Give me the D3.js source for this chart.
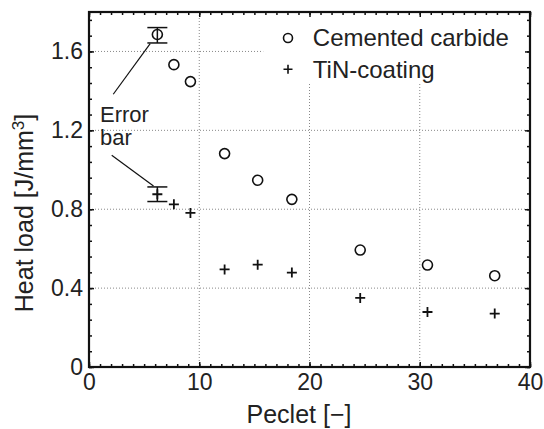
<!DOCTYPE html>
<html>
<head>
<meta charset="utf-8">
<script src="https://cdn.jsdelivr.net/npm/d3@7"></script>
<style>
  body { margin: 0; background: #fff; }
  svg { display: block; font-family: "Liberation Sans", Arial, sans-serif; }
</style>
</head>
<body>
<svg id="chart" width="544" height="429"></svg>
<script>
// data
const peclet  = [6.2, 7.7, 9.2, 12.3, 15.3, 18.4, 24.6, 30.7, 36.8];
const carbide = [1.686, 1.533, 1.447, 1.082, 0.947, 0.850, 0.593, 0.517, 0.463];
const tin     = [0.876, 0.825, 0.781, 0.495, 0.519, 0.479, 0.350, 0.279, 0.271];
// error bars on the first point of each series [low, high]
const carbideErr = [1.643, 1.721];
const tinErr     = [0.839, 0.913];
const xTicks = [0, 10, 20, 30, 40];
const yTicks = [0, 0.4, 0.8, 1.2, 1.6];
const yTickLabels = ['0', '0.4', '0.8', '1.2', '1.6'];
const seriesNames = ['Cemented carbide', 'TiN-coating'];

const svg = d3.select('#chart');
const margin = {top: 12, right: 14, bottom: 62, left: 89};
const width = 544 - margin.left - margin.right;
const height = 429 - margin.top - margin.bottom;

const x = d3.scaleLinear().domain([0, 40]).range([0, width]);
const y = d3.scaleLinear().domain([0, 1.8]).range([height, 0]);

const g = svg.append('g').attr('transform', `translate(${margin.left},${margin.top})`);

// grid
g.append('g').selectAll('line')
  .data(xTicks.slice(1, -1)).enter().append('line')
  .attr('x1', d => x(d)).attr('x2', d => x(d))
  .attr('y1', 0).attr('y2', height)
  .attr('stroke', '#888').attr('stroke-width', 1).attr('stroke-dasharray', '1,2');
g.append('g').selectAll('line')
  .data(yTicks.slice(1)).enter().append('line')
  .attr('y1', d => y(d)).attr('y2', d => y(d))
  .attr('x1', 0).attr('x2', width)
  .attr('stroke', '#888').attr('stroke-width', 1).attr('stroke-dasharray', '1,2');

// legend background hides the grid
g.append('rect')
  .attr('x', x(15.8)).attr('y', 2)
  .attr('width', width - x(15.8) - 2).attr('height', 70)
  .attr('fill', '#fff');

// axes with inward ticks
const fs = '23px';
function styleAxis(sel) {
  sel.select('.domain').remove();
  sel.selectAll('.tick line').attr('stroke', '#111').attr('stroke-width', 1.5);
  sel.selectAll('.tick text').attr('fill', '#222').style('font-size', fs);
}
g.append('g').attr('transform', `translate(0,${height})`)
  .call(d3.axisBottom(x).tickValues(xTicks).tickSize(-5).tickPadding(7))
  .call(styleAxis);
g.append('g').attr('transform', `translate(0,${height})`)
  .call(d3.axisBottom(x).tickValues(d3.range(0, 41, 1)).tickSize(-3).tickFormat(''))
  .call(styleAxis);
g.append('g')
  .call(d3.axisTop(x).tickValues(xTicks).tickSize(-5).tickFormat(''))
  .call(styleAxis);
g.append('g')
  .call(d3.axisTop(x).tickValues(d3.range(0, 41, 1)).tickSize(-3).tickFormat(''))
  .call(styleAxis);
g.append('g')
  .call(d3.axisLeft(y).tickValues(yTicks).tickSize(-5).tickPadding(6)
    .tickFormat((d, i) => yTickLabels[i]))
  .call(styleAxis);
g.append('g')
  .call(d3.axisLeft(y).tickValues(d3.range(0, 1.81, 0.08)).tickSize(-3).tickFormat(''))
  .call(styleAxis);
g.append('g').attr('transform', `translate(${width},0)`)
  .call(d3.axisRight(y).tickValues(yTicks).tickSize(-5).tickFormat(''))
  .call(styleAxis);
g.append('g').attr('transform', `translate(${width},0)`)
  .call(d3.axisRight(y).tickValues(d3.range(0, 1.81, 0.08)).tickSize(-3).tickFormat(''))
  .call(styleAxis);

// frame
g.append('rect')
  .attr('width', width).attr('height', height)
  .attr('fill', 'none').attr('stroke', '#111').attr('stroke-width', 2.2);

// axis labels
svg.append('text')
  .attr('x', 299).attr('y', 423)
  .attr('text-anchor', 'middle').attr('fill', '#222')
  .style('font-size', '25px').text('Peclet [\u2212]');
const yl = svg.append('text')
  .attr('transform', 'translate(33,213) rotate(-90)')
  .attr('text-anchor', 'middle').attr('fill', '#222')
  .style('font-size', '25px');
yl.append('tspan').text('Heat load [J/mm');
yl.append('tspan').attr('dy', -9).style('font-size', '17px').text('3');
yl.append('tspan').attr('dy', 9).text(']');

// error bars
function errorBar(px, range) {
  const eb = g.append('g').attr('stroke', '#111').attr('stroke-width', 1.5);
  eb.append('line').attr('x1', x(px)).attr('x2', x(px)).attr('y1', y(range[0])).attr('y2', y(range[1]));
  range.forEach(v => {
    eb.append('line').attr('x1', x(px) - 10).attr('x2', x(px) + 10)
      .attr('y1', y(v)).attr('y2', y(v));
  });
}
errorBar(peclet[0], carbideErr);
errorBar(peclet[0], tinErr);

// markers
g.append('g').selectAll('circle')
  .data(peclet).enter().append('circle')
  .attr('cx', d => x(d)).attr('cy', (d, i) => y(carbide[i]))
  .attr('r', 5).attr('fill', 'none').attr('stroke', '#111').attr('stroke-width', 1.6);
g.append('g').selectAll('path')
  .data(peclet).enter().append('path')
  .attr('transform', (d, i) => `translate(${x(d)},${y(tin[i])})`)
  .attr('d', 'M-5,0H5M0,-5V5')
  .attr('fill', 'none').attr('stroke', '#111').attr('stroke-width', 1.8);

// annotation
const notes = [[[2.2, 1.383], [5.55, 1.64]], [[2.06, 1.074], [5.85, 0.918]]];
notes.forEach(n => {
  g.append('line')
    .attr('x1', x(n[0][0])).attr('y1', y(n[0][1]))
    .attr('x2', x(n[1][0])).attr('y2', y(n[1][1]))
    .attr('stroke', '#111').attr('stroke-width', 1.2);
});
g.append('text').attr('x', x(1.0)).attr('y', y(1.243)).attr('fill', '#222')
  .style('font-size', '22px').text('Error');
g.append('text').attr('x', x(1.0)).attr('y', y(1.124)).attr('fill', '#222')
  .style('font-size', '22px').text('bar');

// legend
const leg = g.append('g');
const legY = [y(1.668), y(1.51)];
leg.append('circle').attr('cx', x(18.05)).attr('cy', legY[0]).attr('r', 4.5)
  .attr('fill', 'none').attr('stroke', '#111').attr('stroke-width', 1.6);
leg.append('path').attr('transform', `translate(${x(18.05)},${legY[1]})`)
  .attr('d', 'M-4.5,0H4.5M0,-4.5V4.5')
  .attr('fill', 'none').attr('stroke', '#111').attr('stroke-width', 1.6);
seriesNames.forEach((s, i) => {
  leg.append('text').attr('x', x(20.3)).attr('y', legY[i]).attr('dy', '0.35em')
    .attr('fill', '#222').style('font-size', '24px').text(s);
});
</script>
</body>
</html>
